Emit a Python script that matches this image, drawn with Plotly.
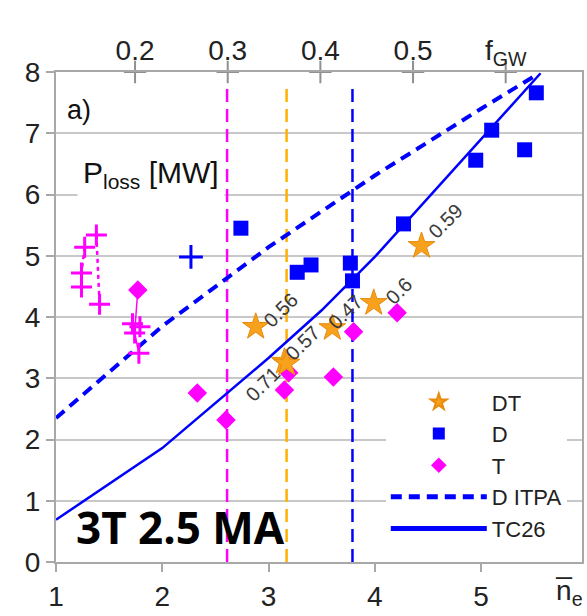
import plotly.graph_objects as go

# ---- data -------------------------------------------------------------
# DT (stars) with the f_GW value printed next to each
dt_ne = [2.88, 3.15, 3.17, 3.60, 3.99, 4.44]
dt_p = [3.84, 3.27, 3.24, 3.82, 4.23, 5.16]
dt_lbl = ["0.56", "0.57", "0.71", "0.47", "0.6", "0.59"]
dt_lbl_dx = [25, 18, -24, 13, 25, 24]
dt_lbl_dy = [17, 19, -20, 16, 12, 25]

# D (squares)
d_ne = [2.74, 3.27, 3.40, 3.77, 3.79, 4.27, 4.95, 5.10, 5.41, 5.52]
d_p = [5.45, 4.73, 4.85, 4.88, 4.59, 5.52, 6.56, 7.05, 6.73, 7.66]

# T (diamonds)
t_ne = [1.77, 2.33, 2.60, 3.15, 3.19, 3.61, 3.80, 4.21]
t_p = [4.44, 2.76, 2.32, 2.81, 3.09, 3.02, 3.76, 4.07]

# T time slices (crosses), three groups
ta_ne = [1.27, 1.24, 1.24]
ta_p = [5.14, 4.72, 4.49]
tb_ne = [1.38, 1.41]
tb_p = [5.34, 4.21]
tc_ne = [1.72, 1.74, 1.79, 1.78]
tc_p = [3.89, 3.74, 3.84, 3.41]

# D time slice (cross)
dx_ne = [2.27]
dx_p = [4.98]

# scalings
itpa_ne = [1.0, 2.0, 3.0, 4.0, 5.0, 5.49]
itpa_p = [2.35, 3.85, 5.14, 6.31, 7.40, 7.92]
tc26_ne = [1.0, 2.0, 3.0, 3.5, 4.0, 5.0, 5.56]
tc26_p = [0.69, 1.86, 3.33, 4.11, 4.98, 6.90, 7.98]

# density limits (vertical dashed lines)
vline_ne = [2.61, 3.17, 3.79]
vline_col = ["#ff00ff", "#ffb000", "#0000ff"]
vline_top = 7.8

# Greenwald fraction axis
n_gw = 8.72
fgw_ticks = [0.2, 0.3, 0.4, 0.5, 0.6]
fgw_text = ["0.2", "0.3", "0.4", "0.5", "f<sub>GW</sub>"]

x_range = [1.0, 5.95]
y_range = [0, 8]

BLUE = "#0000ff"
MAG = "#ff00ff"
ORANGE = "#f7a11c"
GRID = "#c8c8c8"
AXIS = "#a8a8a8"
TXT = "#222222"
FONT = "Liberation Sans, Arial, sans-serif"

fig = go.Figure()

# vertical density lines
for xv, c in zip(vline_ne, vline_col):
    fig.add_trace(go.Scatter(
        x=[xv, xv], y=[0, vline_top], mode="lines",
        line=dict(color=c, width=2.5, dash="13px,7px"),
        showlegend=False, hoverinfo="skip"))

# scaling lines
fig.add_trace(go.Scatter(
    x=itpa_ne, y=itpa_p, mode="lines", name="D ITPA",
    line=dict(color=BLUE, width=4, dash="11px,7px"),
    legendrank=4))
fig.add_trace(go.Scatter(
    x=tc26_ne, y=tc26_p, mode="lines", name="TC26",
    line=dict(color=BLUE, width=2.5), legendrank=5))

# T time slices
fig.add_trace(go.Scatter(
    x=ta_ne, y=ta_p, mode="lines+markers",
    line=dict(color=MAG, width=2.5, dash="4px,4px"),
    marker=dict(symbol="cross-thin", size=15, line=dict(color=MAG, width=3)),
    showlegend=False, hoverinfo="skip"))
fig.add_trace(go.Scatter(
    x=tb_ne, y=tb_p, mode="lines+markers",
    line=dict(color=MAG, width=2.5, dash="4px,4px"),
    marker=dict(symbol="cross-thin", size=15, line=dict(color=MAG, width=3)),
    showlegend=False, hoverinfo="skip"))
fig.add_trace(go.Scatter(
    x=[t_ne[0], tc_ne[1], tc_ne[3]], y=[t_p[0], tc_p[1], tc_p[3]],
    mode="lines", line=dict(color=MAG, width=1.5),
    showlegend=False, hoverinfo="skip"))
fig.add_trace(go.Scatter(
    x=tc_ne, y=tc_p, mode="markers",
    marker=dict(symbol="cross-thin", size=15, line=dict(color=MAG, width=3)),
    showlegend=False, hoverinfo="skip"))
fig.add_trace(go.Scatter(
    x=dx_ne, y=dx_p, mode="markers",
    marker=dict(symbol="cross-thin", size=17, line=dict(color=BLUE, width=3)),
    showlegend=False, hoverinfo="skip"))

# measured points
fig.add_trace(go.Scatter(
    x=d_ne, y=d_p, mode="markers", name="D",
    marker=dict(symbol="square", size=15, color=BLUE), legendrank=2))
fig.add_trace(go.Scatter(
    x=t_ne, y=t_p, mode="markers", name="T",
    marker=dict(symbol="diamond", size=15, color=MAG), legendrank=3))
fig.add_trace(go.Scatter(
    x=dt_ne, y=dt_p, mode="markers", name="DT",
    marker=dict(symbol="star", size=20, color=ORANGE,
                line=dict(color="#e88a0c", width=1)),
    legendrank=1))

# f_GW tick crosses on the top frame line
fig.add_trace(go.Scatter(
    x=fgw_ticks, y=[y_range[1]] * len(fgw_ticks), xaxis="x2", yaxis="y",
    mode="markers", cliponaxis=False,
    marker=dict(symbol="cross-thin", size=16, line=dict(color="#909090", width=2)),
    showlegend=False, hoverinfo="skip"))

# value labels next to the DT points
for xv, yv, s, dx, dy in zip(dt_ne, dt_p, dt_lbl, dt_lbl_dx, dt_lbl_dy):
    fig.add_annotation(x=xv, y=yv, text=s, showarrow=False, textangle=-45,
                       xshift=dx, yshift=dy,
                       font=dict(family=FONT, size=20, color="#3a3a3a"))

# panel texts
fig.add_annotation(xref="paper", yref="paper", x=0.017, y=0.922, text="a)",
                   showarrow=False, xanchor="left", yanchor="middle",
                   font=dict(family=FONT, size=27, color="#111111"))
fig.add_annotation(xref="paper", yref="paper", x=0.04, y=0.79,
                   text="P<sub>loss</sub> [MW]", showarrow=False,
                   xanchor="left", yanchor="middle", bgcolor="white",
                   borderpad=5,
                   font=dict(family=FONT, size=30, color="#111111"))
fig.add_annotation(xref="paper", yref="paper", x=0.237, y=0.071,
                   text="<b>3T 2.5 MA</b>", showarrow=False,
                   xanchor="center", yanchor="middle",
                   font=dict(family="Open Sans, sans-serif", size=44, color="#000000"))
fig.add_annotation(xref="paper", yref="paper", x=0.975, y=-0.062,
                   text="n\u0305<sub>e</sub>", showarrow=False,
                   xanchor="center", yanchor="middle",
                   font=dict(family=FONT, size=28, color=TXT))

fig.update_layout(
    width=587, height=616,
    margin=dict(l=56, r=3, t=72, b=54),
    paper_bgcolor="white", plot_bgcolor="white",
    font=dict(family=FONT, color=TXT),
    xaxis=dict(range=x_range, tickvals=[1, 2, 3, 4, 5], showgrid=False,
               zeroline=False, showline=True, mirror=True, linecolor=AXIS,
               linewidth=2, ticks="outside", ticklen=8, tickwidth=2,
               tickcolor=AXIS, tickfont=dict(size=28, color=TXT)),
    xaxis2=dict(range=[x_range[0] / n_gw, x_range[1] / n_gw], overlaying="x",
                side="top", anchor="y", tickvals=fgw_ticks, ticktext=fgw_text,
                showgrid=False, zeroline=False, showline=False,
                ticks="", ticklabelstandoff=5,
                tickfont=dict(size=28, color=TXT)),
    yaxis=dict(range=y_range, dtick=1, showgrid=True, gridcolor=GRID,
               gridwidth=2, zeroline=False, showline=True, mirror=True,
               linecolor=AXIS, linewidth=2, ticks="outside", ticklen=8,
               tickwidth=2, tickcolor=AXIS, tickfont=dict(size=28, color=TXT)),
    legend=dict(x=0.627, y=0.369, xanchor="left", yanchor="top",
                bgcolor="white", borderwidth=0, itemwidth=96,
                itemsizing="constant",
                font=dict(family=FONT, size=22, color=TXT),
                tracegroupgap=0),
    showlegend=True,
)

fig.write_html("out.html")
